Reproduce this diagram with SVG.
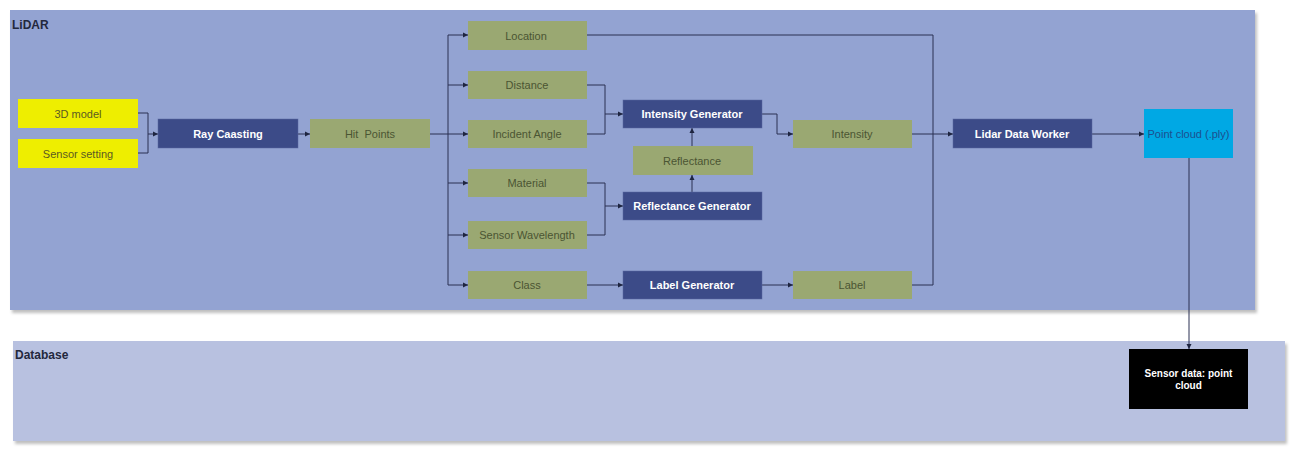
<svg xmlns="http://www.w3.org/2000/svg" width="1299" height="456" viewBox="0 0 1299 456">
<defs>
<marker id="arr" markerWidth="6" markerHeight="6" refX="5" refY="3" orient="auto" markerUnits="userSpaceOnUse">
<path d="M0,0.5 L5,3 L0,5.5 Z" fill="#1e2540"/>
</marker>
<filter id="sh" x="-5%" y="-5%" width="110%" height="120%">
<feDropShadow dx="2" dy="3" stdDeviation="1.5" flood-color="#000" flood-opacity="0.25"/>
</filter>
<style>
text{font-family:"Liberation Sans",Arial,sans-serif;}
.g{fill:#9aa872;}
.d{fill:#3c4b88;stroke:#5a67a0;stroke-width:0.5;}
.y{fill:#eeee00;}
.gt{font-size:11px;fill:#4b5533;text-anchor:middle;dominant-baseline:central;}
.dt{font-size:11px;font-weight:bold;fill:#ffffff;text-anchor:middle;dominant-baseline:central;}
.yt{font-size:11px;fill:#5b5a22;text-anchor:middle;dominant-baseline:central;}
.c{fill:none;stroke:#2a3152;stroke-width:1;}
.ca{fill:none;stroke:#2a3152;stroke-width:1;marker-end:url(#arr);}
.ct{font-size:12px;font-weight:bold;fill:#23283d;}
</style>
</defs>

<g id="lidar-container">
<rect x="10" y="10" width="1245" height="300" fill="#93a3d2" filter="url(#sh)"/>
<text class="ct" x="12" y="29">LiDAR</text>
</g>
<g id="database-container">
<rect x="13" y="341" width="1272" height="100" fill="#b8c1e0" filter="url(#sh)"/>
<text class="ct" x="15" y="359">Database</text>
</g>

<g id="connectors">
<path class="c" d="M138,113 H148 V134"/>
<path class="c" d="M138,153 H148 V134"/>
<path class="ca" d="M148,134 H158"/>
<path class="ca" d="M298,134 H310"/>
<path class="c" d="M430,134 H448"/>
<path class="c" d="M448,35 V285"/>
<path class="ca" d="M448,35 H468"/>
<path class="ca" d="M448,85 H468"/>
<path class="ca" d="M448,134 H468"/>
<path class="ca" d="M448,183 H468"/>
<path class="ca" d="M448,235 H468"/>
<path class="ca" d="M448,285 H468"/>
<path class="c" d="M587,85 H605 V114"/>
<path class="c" d="M587,134 H605 V114"/>
<path class="ca" d="M605,114 H623"/>
<path class="c" d="M587,183 H605 V206"/>
<path class="c" d="M587,235 H605 V206"/>
<path class="ca" d="M605,206 H623"/>
<path class="ca" d="M692,192 V175"/>
<path class="ca" d="M692,146 V128"/>
<path class="ca" d="M762,114 H777 V134 H793"/>
<path class="ca" d="M587,285 H623"/>
<path class="ca" d="M762,285 H793"/>
<path class="c" d="M587,35 H933 V285 H912"/>
<path class="ca" d="M912,134 H953"/>
<path class="ca" d="M1092,134 H1144"/>
<path class="ca" d="M1189,158 V349"/>
</g>

<g id="n-3dmodel"><rect class="y" x="18" y="99" width="120" height="29"/><text class="yt" x="78" y="114">3D model</text></g>
<g id="n-sensor-setting"><rect class="y" x="18" y="139" width="120" height="29"/><text class="yt" x="78" y="154">Sensor setting</text></g>
<g id="n-ray-caasting"><rect class="d" x="158" y="119" width="140" height="29"/><text class="dt" x="228" y="134">Ray Caasting</text></g>
<g id="n-hit-points"><rect class="g" x="310" y="119" width="120" height="29"/><text class="gt" x="370" y="134" xml:space="preserve">Hit  Points</text></g>
<g id="n-location"><rect class="g" x="468" y="21" width="119" height="29"/><text class="gt" x="526" y="36">Location</text></g>
<g id="n-distance"><rect class="g" x="468" y="71" width="119" height="28"/><text class="gt" x="527" y="85">Distance</text></g>
<g id="n-incident-angle"><rect class="g" x="468" y="120" width="119" height="28"/><text class="gt" x="527" y="134">Incident Angle</text></g>
<g id="n-material"><rect class="g" x="468" y="169" width="119" height="28"/><text class="gt" x="527" y="183">Material</text></g>
<g id="n-sensor-wavelength"><rect class="g" x="468" y="221" width="119" height="28"/><text class="gt" x="527" y="235">Sensor Wavelength</text></g>
<g id="n-class"><rect class="g" x="468" y="271" width="119" height="28"/><text class="gt" x="527" y="285">Class</text></g>
<g id="n-intensity-generator"><rect class="d" x="623" y="100" width="139" height="28"/><text class="dt" x="692" y="114">Intensity Generator</text></g>
<g id="n-reflectance"><rect class="g" x="633" y="146" width="120" height="29"/><text class="gt" x="692" y="161">Reflectance</text></g>
<g id="n-reflectance-generator"><rect class="d" x="623" y="192" width="139" height="28"/><text class="dt" x="692" y="206">Reflectance Generator</text></g>
<g id="n-label-generator"><rect class="d" x="623" y="271" width="139" height="28"/><text class="dt" x="692" y="285">Label Generator</text></g>
<g id="n-intensity"><rect class="g" x="793" y="120" width="119" height="28"/><text class="gt" x="852" y="134">Intensity</text></g>
<g id="n-label"><rect class="g" x="793" y="271" width="119" height="28"/><text class="gt" x="852" y="285">Label</text></g>
<g id="n-lidar-data-worker"><rect class="d" x="953" y="119" width="139" height="29"/><text class="dt" x="1022" y="134">Lidar Data Worker</text></g>
<g id="n-point-cloud"><rect x="1144" y="109" width="89" height="49" fill="#00a8e4"/><text x="1188.5" y="134" font-size="11" fill="#1d4f8f" text-anchor="middle" dominant-baseline="central">Point cloud (.ply)</text></g>
<g id="n-sensor-data"><rect x="1129" y="349" width="119" height="60" fill="#000000"/><text font-size="10" font-weight="bold" fill="#ffffff" text-anchor="middle"><tspan x="1188.5" y="377">Sensor data: point</tspan><tspan x="1188.5" y="389">cloud</tspan></text></g>
</svg>
